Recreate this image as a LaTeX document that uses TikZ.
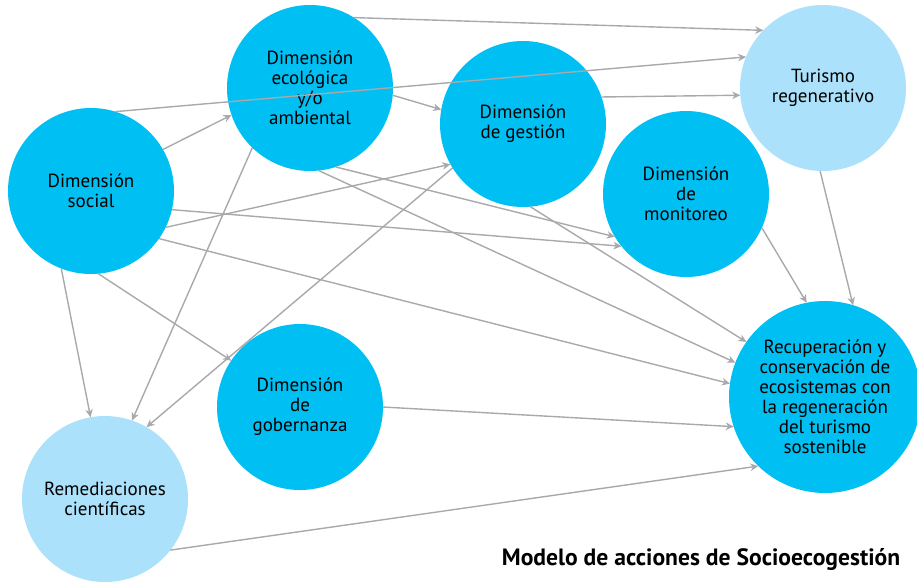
\documentclass[tikz,border=0pt]{standalone}
\usepackage{fontspec}
\setmainfont{PT Sans}
\usetikzlibrary{arrows.meta}
\definecolor{dimblue}{HTML}{00BFF2}
\definecolor{lightblue}{HTML}{ABE1FA}
\definecolor{arrgray}{HTML}{A7A9AC}
\begin{document}
\begin{tikzpicture}[x=1pt,y=-1pt,
  dim/.style={circle,fill=dimblue,draw=none,inner sep=0pt,outer sep=0pt,minimum size=166pt,align=center,font=\fontsize{19}{20}\selectfont},
  lite/.style={dim,fill=lightblue},
  arr/.style={draw=arrgray,line width=1.4pt,-{Stealth[length=8pt,width=7.5pt,inset=2.5pt]}}]
\useasboundingbox (0,0) rectangle (917,582);
\node[dim] (S) at (91,191) {Dimensión\\social};
\node[dim] (E) at (310,88) {Dimensión\\ecológica\\y/o\\ambiental};
\node[dim] (G) at (523,124) {Dimensión\\de gestión};
\node[lite] (T) at (823,88) {Turismo\\regenerativo};
\node[dim] (M) at (686,194) {Dimensión\\de\\monitoreo};
\node[dim,minimum size=192pt] (R) at (825,397) {Recuperación y\\conservación de\\ecosistemas con\\la regeneración\\del turismo\\sostenible};
\node[dim] (B) at (300,407) {Dimensión\\de\\gobernanza};
\node[lite] (C) at (105,499) {Remediaciones\\científicas};
\node[font=\bfseries\fontsize{23.6}{24}\selectfont,anchor=center] (title) at (701,559) {Modelo de acciones de Socioecogestión};
\draw[arr] (E.58.4) -- (T.136.9);
\draw[arr] (S.73.3) -- (T.158.1);
\draw[arr] (S.30.3) -- (E.199.7);
\draw[arr] (E.-5.6) -- (G.170.4);
\draw[arr] (G.19.5) -- (T.185.4);
\draw[arr] (S.-26.3) -- (G.209.3);
\draw[arr] (S.-13.7) -- (M.219.3);
\draw[arr] (E.-72.4) -- (M.211.4);
\draw[arr] (E.-84.5) -- (R.159);
\draw[arr] (G.-85.2) -- (R.145.5);
\draw[arr] (S.-35.5) -- (R.172.3);
\draw[arr] (B.0) -- (R.198.4);
\draw[arr] (C.-38.1) -- (R.226.2);
\draw[arr] (M.-24.8) -- (R.101.4);
\draw[arr] (T.-92.7) -- (R.73);
\draw[arr] (S.-111.3) -- (C.100.1);
\draw[arr] (E.-134.5) -- (C.71.6);
\draw[arr] (G.-148.4) -- (C.60.4);
\draw[arr] (S.-85.8) -- (B.146.9);
\end{tikzpicture}
\end{document}
